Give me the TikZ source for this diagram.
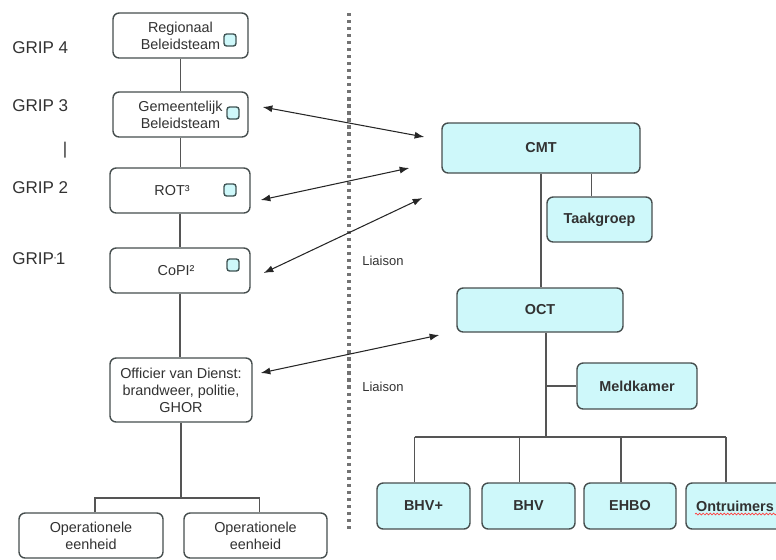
\documentclass[tikz,border=0pt]{standalone}
\usepackage{fontspec}
\setmainfont{Liberation Sans}
\usetikzlibrary{arrows.meta,calc,decorations.pathmorphing}
\definecolor{boxfill}{RGB}{206,248,250}
\definecolor{boxline}{RGB}{70,78,78}
\definecolor{treeline}{RGB}{85,85,85}
\definecolor{txtgray}{RGB}{50,50,50}

\begin{document}
\begin{tikzpicture}[x=0.02cm,y=-0.02cm]
% \draw[help lines, step=50] (0,0) grid (776,559);
\def\px{0.02cm}
\useasboundingbox (0,0) rectangle (776,559);

% GRIP levels
\begin{scope}[every node/.style={anchor=west, text=txtgray, font=\fontsize{9.7}{11}\selectfont, inner sep=0pt}]
    \node (grip4) at (12,48) {GRIP 4};
    \node (grip3) at (12,106) {GRIP 3};
    \node[anchor=center] (gripbar) at (65,150) {|};
    \node (grip2) at (12,188) {GRIP 2};
    \node (grip1) at (12,259) {GRIP\raisebox{1pt}{\tiny '}1};
\end{scope}

% left column
\begin{scope}[every node/.style={draw=boxline, line width=0.8pt, rounded corners=3.5pt, fill=white, align=center, text=txtgray, font=\fontsize{8.2}{9.6}\selectfont, minimum height=45*\px, inner sep=1pt}]
    \node[minimum width=135*\px] (reg) at (180.5,35.5) {Regionaal\\Beleidsteam};
    \node[minimum width=135*\px] (gem) at (180.5,114.5) {Gemeentelijk\\Beleidsteam};
    \node[minimum width=140*\px] (rot) at (180,190.5) {ROT³\hspace{9pt}};
    \node[minimum width=140*\px] (copi) at (180,270.5) {CoPI²\hspace{4.5pt}};
    \node[minimum width=142*\px, minimum height=64*\px] (ovd) at (181,390) {Officier van Dienst:\\brandweer, politie,\\GHOR};
    \node[minimum width=144*\px] (op1) at (91,535.5) {Operationele\\eenheid};
    \node[minimum width=143*\px] (op2) at (255.5,535.5) {Operationele\\eenheid};
\end{scope}

% small squares
\begin{scope}[every node/.style={draw=boxline!90!teal, line width=0.8pt, fill=boxfill, rounded corners=1.5pt, minimum size=12*\px, inner sep=0pt}]
    \node (regsq) at (230,40) {};
    \node (gemsq) at (233,113) {};
    \node (rotsq) at (230,190) {};
    \node (copisq) at (233,265) {};
\end{scope}

% right column
\begin{scope}[every node/.style={draw=boxline, line width=0.8pt, rounded corners=3.5pt, fill=boxfill, align=center, text=txtgray, font=\fontsize{8.2}{9.6}\selectfont\bfseries, minimum height=45*\px, inner sep=1pt}]
    \node[minimum width=198*\px, minimum height=50*\px] (cmt) at (541,148) {CMT};
    \node[minimum width=105*\px] (taak) at (599.5,219.5) {Taakgroep};
    \node[minimum width=166*\px, minimum height=44*\px] (oct) at (540,310) {OCT};
    \node[minimum width=120*\px, minimum height=46*\px] (meld) at (637,386) {Meldkamer};
    \node[minimum width=93*\px, minimum height=46*\px] (bhvp) at (423.5,506) {BHV+};
    \node[minimum width=93*\px, minimum height=46*\px] (bhv) at (528.5,506) {BHV};
    \node[minimum width=92*\px, minimum height=46*\px] (ehbo) at (630,506) {EHBO};
    \node[minimum width=98*\px, minimum height=46*\px] (ontr) at (735,506) {Ontruimers};
\end{scope}

\begin{scope}[every node/.style={anchor=west, text=txtgray, font=\fontsize{7.4}{9}\selectfont, inner sep=0pt}]
    \node (liaison1) at (362,261) {Liaison};
    \node (liaison2) at (362,387) {Liaison};
\end{scope}

\coordinate (opbus) at (183,498);
\coordinate (octbus) at (546,437);

\begin{scope}[treeline/.style={draw=treeline, line width=0.9pt}]
    \foreach \from/\to in {reg/gem, gem/rot, rot/copi, copi/ovd}
        \draw[treeline] (\from.south) -- (\from.south |- \to.north);
    \draw[treeline] (ovd.south) -- (ovd.south |- opbus);
    \draw[treeline] ([xshift=4*\px]op1.north) |- (opbus) -| ([xshift=4*\px]op2.north);

    \draw[treeline] (cmt.south) -- (cmt.south |- oct.north);
    \draw[treeline] ([xshift=-8*\px]taak.north) -- ([xshift=-8*\px]taak.north |- cmt.south);
    \draw[treeline] ([xshift=6*\px]oct.south) -- (octbus);
    \draw[treeline] (meld.west) -- (meld.west -| octbus);
    \foreach \n in {bhvp, bhv, ehbo, ontr}
        \draw[treeline] ([xshift=-9*\px]\n.north) -- ([xshift=-9*\px]\n.north |- octbus);
    \draw[treeline] ([xshift=-9*\px]bhvp.north |- octbus) -- ([xshift=-9*\px]ontr.north |- octbus);
\end{scope}

% divider
\draw[black!55, line width=1.8pt, dash pattern=on 1.8pt off 2.2pt] (349,13) -- (349,533);

% liaison arrows
\coordinate (gemL) at ($(gem.east)+(14,-7.5)$);
\coordinate (rotL) at ($(rot.east)+(10,9.5)$);
\coordinate (copiL) at ($(copi.east)+(13,2.5)$);
\coordinate (ovdL) at ($(ovd.east)+(8,-17)$);
\coordinate (cmtA) at ($(cmt.west)+(-17,-11)$);
\coordinate (cmtB) at ($(cmt.west)+(-32,20)$);
\coordinate (cmtC) at ($(cmt.west)+(-19,50)$);
\coordinate (octA) at ($(oct.west)+(-17,25)$);
\foreach \from/\to in {gemL/cmtA, rotL/cmtB, copiL/cmtC, ovdL/octA}
    \draw[black!85, line width=0.6pt, {Latex[length=5.5pt,width=4pt]}-{Latex[length=5.5pt,width=4pt]}] (\from) -- (\to);

% spelling mark
\draw[red!75, line width=0.4pt, decorate, decoration={snake, amplitude=0.5pt, segment length=2pt}] ($(ontr.center)+(-40,8)$) -- ++(82,0);
\end{tikzpicture}
\end{document}
